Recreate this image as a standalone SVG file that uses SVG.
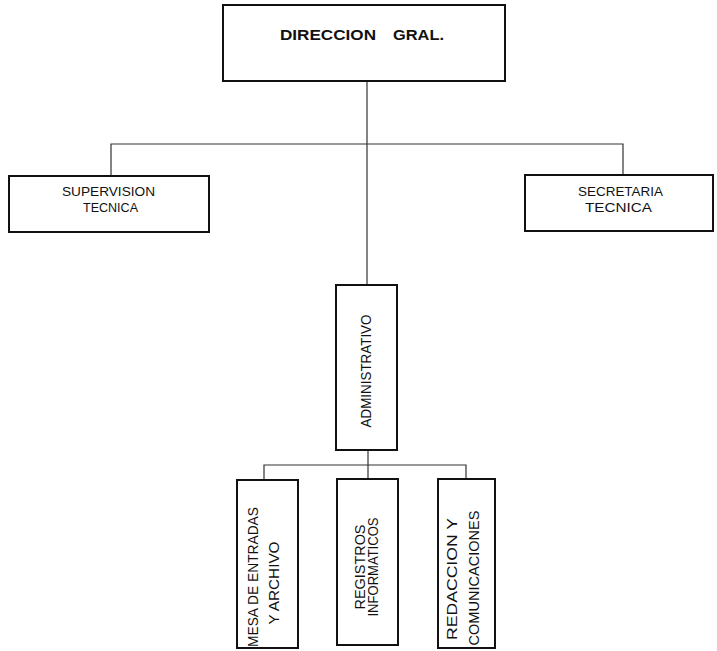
<svg xmlns="http://www.w3.org/2000/svg" width="717" height="651" viewBox="0 0 717 651">
<style>
.box{fill:#fff;stroke:#111;stroke-width:2}
.ln{fill:none;stroke:#333;stroke-width:1.2}
text{font-family:"Liberation Sans","DejaVu Sans",sans-serif;fill:#111}
.h{font-size:13px}
.v{font-size:15px;text-anchor:middle}
</style>
<rect width="717" height="651" fill="#fff"/>
<g id="connectors">
<path class="ln" d="M367,81 V285"/>
<path class="ln" d="M111,176 V144 H623 V175"/>
<path class="ln" d="M368,450 V479"/>
<path class="ln" d="M264,480 V465 H466 V479"/>
</g>
<g id="direccion">
<rect class="box" x="223" y="5" width="282" height="76"/>
<text y="40" font-size="14" font-weight="bold"><tspan x="280" textLength="96" lengthAdjust="spacingAndGlyphs">DIRECCION</tspan><tspan x="393" textLength="51" lengthAdjust="spacingAndGlyphs">GRAL.</tspan></text>
</g>
<g id="supervision">
<rect class="box" x="9" y="176" width="200" height="56"/>
<text class="h" x="62" y="196" textLength="93" lengthAdjust="spacingAndGlyphs">SUPERVISION</text>
<text class="h" x="83" y="212" textLength="55" lengthAdjust="spacingAndGlyphs">TECNICA</text>
</g>
<g id="secretaria">
<rect class="box" x="525" y="175" width="188" height="56"/>
<text class="h" x="578" y="196" textLength="85" lengthAdjust="spacingAndGlyphs">SECRETARIA</text>
<text class="h" x="585" y="212" textLength="67" lengthAdjust="spacingAndGlyphs">TECNICA</text>
</g>
<g id="administrativo">
<rect class="box" x="336" y="285" width="61" height="165"/>
<text class="v" transform="translate(371,371) rotate(-90)" font-size="17" textLength="113" lengthAdjust="spacingAndGlyphs">ADMINISTRATIVO</text>
</g>
<g id="mesa">
<rect class="box" x="237" y="480" width="61" height="168"/>
<text class="v" transform="translate(258,577) rotate(-90)" textLength="140" lengthAdjust="spacingAndGlyphs">MESA DE ENTRADAS</text>
<text class="v" transform="translate(279,583) rotate(-90)" textLength="83" lengthAdjust="spacingAndGlyphs">Y ARCHIVO</text>
</g>
<g id="registros">
<rect class="box" x="337" y="479" width="61" height="166"/>
<text class="v" transform="translate(365,567) rotate(-90)" textLength="85" lengthAdjust="spacingAndGlyphs">REGISTROS</text>
<text class="v" transform="translate(378,567) rotate(-90)" textLength="99" lengthAdjust="spacingAndGlyphs">INFORMATICOS</text>
</g>
<g id="redaccion">
<rect class="box" x="438" y="479" width="57" height="169"/>
<text class="v" transform="translate(457,579) rotate(-90)" textLength="122" lengthAdjust="spacingAndGlyphs">REDACCION  Y</text>
<text class="v" transform="translate(479,578) rotate(-90)" textLength="135" lengthAdjust="spacingAndGlyphs">COMUNICACIONES</text>
</g>
</svg>
